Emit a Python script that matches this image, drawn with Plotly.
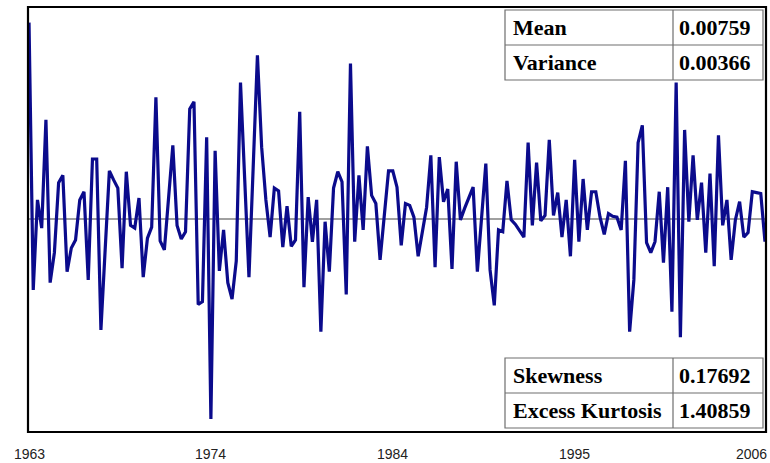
import plotly.graph_objects as go

# ---- data ----
tick_years = ["1963", "1974", "1984", "1995", "2006"]
tick_index = [0, 43, 86, 129, 172]

returns = [
    0.216, -0.078, 0.021, -0.010, 0.109, -0.070, -0.037, 0.040, 0.048, -0.058,
    -0.032, -0.023, 0.021, 0.030, -0.067, 0.066, 0.066, -0.122, -0.034, 0.053,
    0.043, 0.034, -0.054, 0.052, -0.007, -0.010, 0.023, -0.064, -0.021, -0.009,
    0.134, -0.024, -0.034, 0.024, 0.081, -0.007, -0.022, -0.014, 0.121, 0.129,
    -0.094, -0.091, 0.090, -0.220, 0.075, -0.057, -0.012, -0.070, -0.088, -0.046,
    0.150, 0.043, -0.064, 0.057, 0.180, 0.079, 0.021, -0.020, 0.034, 0.031,
    -0.031, 0.014, -0.030, -0.023, 0.118, -0.075, 0.024, -0.025, 0.021, -0.124,
    -0.003, -0.058, 0.034, 0.052, 0.041, -0.083, 0.171, -0.025, 0.048, -0.012,
    0.080, 0.026, 0.017, -0.045, 0.004, 0.053, 0.053, 0.035, -0.029, 0.017,
    0.015, 0.002, -0.041, -0.012, 0.013, 0.070, -0.053, 0.068, 0.019, 0.033,
    -0.055, 0.063, -0.001, 0.012, 0.023, 0.035, -0.058, 0.001, 0.061, -0.056,
    -0.095, -0.012, -0.014, 0.042, -0.001, -0.006, -0.013, -0.020, 0.084, -0.007,
    0.062, -0.002, 0.004, 0.087, 0.004, 0.029, -0.020, 0.021, -0.041, 0.065,
    -0.025, 0.044, -0.012, 0.030, 0.030, 0.002, -0.017, 0.006, 0.003, 0.002,
    -0.012, 0.064, -0.124, -0.067, 0.084, 0.103, -0.026, -0.037, -0.025, 0.030,
    -0.048, 0.035, -0.102, 0.150, -0.130, 0.098, -0.003, 0.070, -0.001, 0.040,
    -0.037, 0.050, -0.052, 0.092, -0.007, 0.021, -0.045, -0.001, 0.019, -0.020,
    -0.015, 0.030, 0.029, 0.028, -0.025,
]

top_names = ["Mean", "Variance"]
top_values = ["0.00759", "0.00366"]
bottom_names = ["Skewness", "Excess Kurtosis"]
bottom_values = ["0.17692", "1.40859"]

# ---- layout geometry (pixels) ----
W, H = 770, 463
L, R, T, B = 28, 766, 7, 432


def px(x):
    return (x - L) / (R - L)


def py(y):
    return (B - y) / (B - T)


fig = go.Figure()
fig.add_trace(go.Scatter(
    x=list(range(len(returns))), y=returns, mode="lines",
    line=dict(color="#0b0b8c", width=3.2), hoverinfo="skip", showlegend=False,
))

shapes = []
annotations = []
# zero line
shapes.append(dict(type="line", xref="paper", yref="y", x0=0, x1=1, y0=0, y1=0,
                   line=dict(color="#808080", width=1.3), layer="below"))
# plot frame
shapes.append(dict(type="rect", xref="paper", yref="paper", x0=0, x1=1, y0=0, y1=1,
                   line=dict(color="black", width=2.2)))

# year labels under the axis (as annotations so the edge label is kept)
label_font = dict(family="Liberation Sans", size=14, color="#222")
for idx, yr in zip(tick_index, tick_years):
    if idx == tick_index[-1]:
        annotations.append(dict(xref="paper", yref="paper", x=px(769), y=py(454), text=yr,
                                showarrow=False, xanchor="right", yanchor="middle",
                                font=label_font))
    else:
        annotations.append(dict(xref="x", yref="paper", x=idx, y=py(454), text=yr,
                                showarrow=False, xanchor="center", yanchor="middle",
                                font=label_font))

cell_font = dict(family="Liberation Serif", size=22, color="black")


def add_table(names, vals, top, row_h):
    x0, xd, x1 = 505, 673, 763
    bottom = top + row_h * len(names)
    shapes.append(dict(type="rect", xref="paper", yref="paper",
                       x0=px(x0), x1=px(x1), y0=py(bottom), y1=py(top),
                       fillcolor="white", line=dict(color="#6e6e6e", width=1.2), layer="above"))
    shapes.append(dict(type="line", xref="paper", yref="paper",
                       x0=px(xd), x1=px(xd), y0=py(bottom), y1=py(top),
                       line=dict(color="#6e6e6e", width=1.2), layer="above"))
    for k in range(1, len(names)):
        yy = top + row_h * k
        shapes.append(dict(type="line", xref="paper", yref="paper",
                           x0=px(x0), x1=px(x1), y0=py(yy), y1=py(yy),
                           line=dict(color="#6e6e6e", width=1.2), layer="above"))
    for k, (n, v) in enumerate(zip(names, vals)):
        yc = top + row_h * (k + 0.5)
        annotations.append(dict(xref="paper", yref="paper", x=px(x0 + 6), y=py(yc),
                                text="<b>%s</b>" % n, showarrow=False,
                                xanchor="left", yanchor="middle", font=cell_font))
        annotations.append(dict(xref="paper", yref="paper", x=px(x1 - 10), y=py(yc),
                                text="<b>%s</b>" % v, showarrow=False,
                                xanchor="right", yanchor="middle", font=cell_font))


add_table(top_names, top_values, 10, 35)
add_table(bottom_names, bottom_values, 358, 35)

fig.update_layout(
    width=W, height=H,
    margin=dict(l=L, r=W - R, t=T, b=H - B),
    paper_bgcolor="white", plot_bgcolor="white",
    shapes=shapes, annotations=annotations,
    xaxis=dict(range=[-0.24, 174.24], showgrid=False, zeroline=False, showline=False,
               showticklabels=False, ticks=""),
    yaxis=dict(range=[-0.2343, 0.2332], visible=False, showgrid=False, zeroline=False),
)

fig.write_html("out.html", config={"displayModeBar": False},
               post_script="document.body.style.margin='0';document.body.style.overflow='hidden';")
